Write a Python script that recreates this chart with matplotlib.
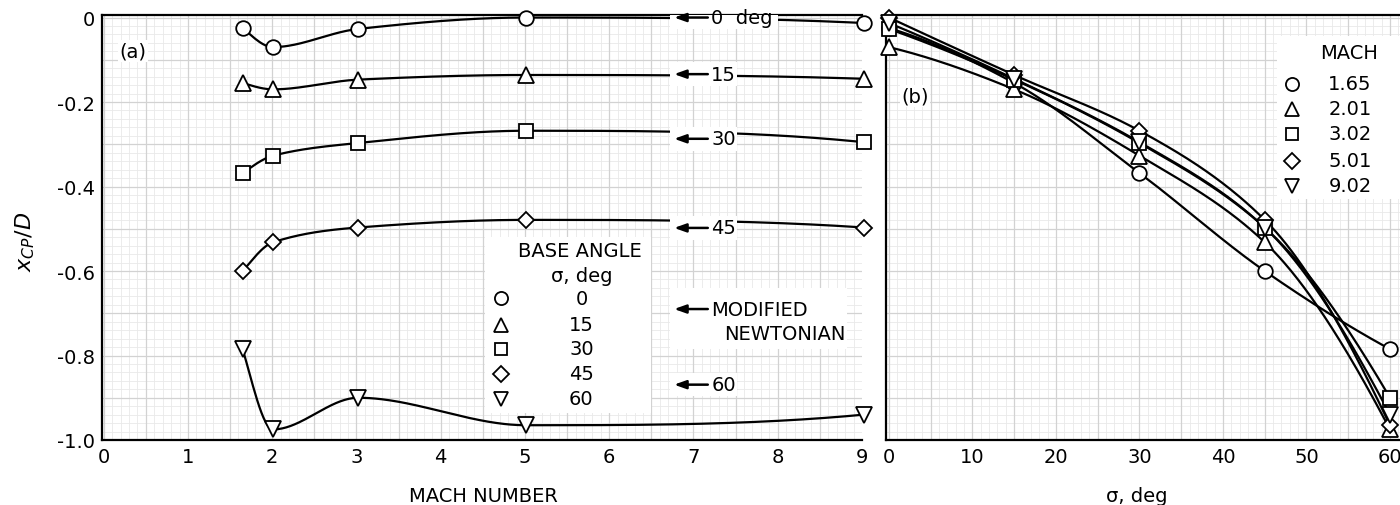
import numpy as np
import matplotlib
matplotlib.use("Agg")
import matplotlib.pyplot as plt
from matplotlib.patches import Rectangle

# ---------------- data ----------------
mach = [1.65, 2.01, 3.02, 5.01, 9.02]
sigma = [0, 15, 30, 45, 60]
xcp_sigma0 = [-0.025, -0.070, -0.027, 0.000, -0.013]
xcp_sigma15 = [-0.155, -0.170, -0.147, -0.136, -0.145]
xcp_sigma30 = [-0.368, -0.327, -0.297, -0.268, -0.295]
xcp_sigma45 = [-0.600, -0.532, -0.497, -0.479, -0.497]
xcp_sigma60 = [-0.785, -0.975, -0.900, -0.965, -0.940]
xcp_by_sigma = [xcp_sigma0, xcp_sigma15, xcp_sigma30, xcp_sigma45, xcp_sigma60]

newtonian_labels = ["0  deg", "15", "30", "45", "60"]
newtonian_xcp = [0.0, -0.134, -0.287, -0.498, -0.869]

sigma_labels = ["0", "15", "30", "45", "60"]
mach_labels = ["1.65", "2.01", "3.02", "5.01", "9.02"]
mach_ticks = [0, 1, 2, 3, 4, 5, 6, 7, 8, 9]
sigma_ticks = [0, 10, 20, 30, 40, 50, 60]
y_ticks = [0, -0.2, -0.4, -0.6, -0.8, -1.0]
y_ticklabels = ["0", "-0.2", "-0.4", "-0.6", "-0.8", "-1.0"]

# ---------------- styles ----------------
markers = ["o", "^", "s", "D", "v"]
msizes = [10.5, 11, 9.5, 8.5, 11]
FS = 14
plt.rcParams["font.family"] = ["DejaVu Sans"]


def smooth(x, y, n=300):
    """shape-preserving cubic (PCHIP) curve through the given points"""
    x = np.asarray(x, float)
    y = np.asarray(y, float)
    h = np.diff(x)
    delta = np.diff(y) / h
    m = len(x)
    d = np.zeros(m)
    for i in range(1, m - 1):
        if delta[i - 1] * delta[i] > 0:
            w1 = 2 * h[i] + h[i - 1]
            w2 = h[i] + 2 * h[i - 1]
            d[i] = (w1 + w2) / (w1 / delta[i - 1] + w2 / delta[i])
    d[0] = ((2 * h[0] + h[1]) * delta[0] - h[0] * delta[1]) / (h[0] + h[1])
    if np.sign(d[0]) != np.sign(delta[0]):
        d[0] = 0
    elif np.sign(delta[0]) != np.sign(delta[1]) and abs(d[0]) > abs(3 * delta[0]):
        d[0] = 3 * delta[0]
    d[-1] = ((2 * h[-1] + h[-2]) * delta[-1] - h[-1] * delta[-2]) / (h[-1] + h[-2])
    if np.sign(d[-1]) != np.sign(delta[-1]):
        d[-1] = 0
    elif np.sign(delta[-1]) != np.sign(delta[-2]) and abs(d[-1]) > abs(3 * delta[-1]):
        d[-1] = 3 * delta[-1]
    xs = np.linspace(x[0], x[-1], n)
    idx = np.clip(np.searchsorted(x, xs) - 1, 0, m - 2)
    t = (xs - x[idx]) / h[idx]
    h00 = 2 * t ** 3 - 3 * t ** 2 + 1
    h10 = t ** 3 - 2 * t ** 2 + t
    h01 = -2 * t ** 3 + 3 * t ** 2
    h11 = t ** 3 - t ** 2
    ys = (h00 * y[idx] + h10 * h[idx] * d[idx] + h01 * y[idx + 1]
          + h11 * h[idx] * d[idx + 1])
    return xs, ys


def paper(ax, xlim, ylim, xfine, xbold, yfine, ybold):
    for v in np.arange(np.ceil(xlim[0] / xfine) * xfine, xlim[1], xfine):
        ax.axvline(v, color="#e9e9e9", lw=0.6, zorder=0)
    for v in np.arange(np.ceil(ylim[0] / yfine) * yfine, ylim[1], yfine):
        ax.axhline(v, color="#e9e9e9", lw=0.6, zorder=0)
    for v in np.arange(np.ceil(xlim[0] / xbold) * xbold, xlim[1], xbold):
        ax.axvline(v, color="#d2d2d2", lw=0.9, zorder=0)
    for v in np.arange(np.ceil(ylim[0] / ybold) * ybold, ylim[1], ybold):
        ax.axhline(v, color="#d2d2d2", lw=0.9, zorder=0)


fig = plt.figure(figsize=(14, 5.06), dpi=100)
H = 506.0
axA = fig.add_axes([102 / 1400, (H - 441) / H, 760 / 1400, 425 / H])
axB = fig.add_axes([886 / 1400, (H - 441) / H, 514 / 1400, 425 / H])

ylim = (-1.0, 0.006)
xlimA = (-0.02, 9.0)
xlimB = (-0.35, 61.2)

for ax, xl in ((axA, xlimA), (axB, xlimB)):
    ax.set_xlim(*xl)
    ax.set_ylim(*ylim)
    ax.spines["right"].set_visible(False)
    for s in ("top", "left", "bottom"):
        ax.spines[s].set_linewidth(1.6)
    ax.tick_params(length=0, labelsize=FS, pad=5)

paper(axA, xlimA, ylim, 0.1, 0.5, 0.02, 0.1)
paper(axB, xlimB, ylim, 1.0, 5.0, 0.02, 0.1)

# ---------------- panel (a) ----------------
axA.set_xticks(mach_ticks)
axA.set_xticklabels([str(t) for t in mach_ticks])
axA.set_yticks(y_ticks)
axA.set_yticklabels(y_ticklabels)

for k, vals in enumerate(xcp_by_sigma):
    xs, ys = smooth(mach, vals)
    axA.plot(xs, ys, color="k", lw=1.6, zorder=2)
    axA.plot(mach, vals, ls="none", marker=markers[k], ms=msizes[k],
             mfc="white", mec="k", mew=1.3, zorder=6, clip_on=False)

# modified newtonian arrows
for lab, yv in zip(newtonian_labels, newtonian_xcp):
    xend = 8.0 if "deg" in lab else 7.52
    axA.add_patch(Rectangle((6.72, yv - 0.028), xend - 6.72, 0.056,
                            fc="white", ec="none", zorder=4))
    axA.annotate("", xy=(6.77, yv), xytext=(7.17, yv),
                 arrowprops=dict(arrowstyle="-|>,head_length=0.7,head_width=0.25",
                                 lw=1.8, color="k", shrinkA=0, shrinkB=0),
                 zorder=5)
    axA.text(7.21, yv, lab, fontsize=FS, ha="left", va="center", zorder=5)

axA.add_patch(Rectangle((6.72, -0.785), 2.1, 0.145, fc="white", ec="none", zorder=4))
axA.annotate("", xy=(6.77, -0.69), xytext=(7.17, -0.69),
             arrowprops=dict(arrowstyle="-|>,head_length=0.7,head_width=0.25",
                             lw=1.8, color="k", shrinkA=0, shrinkB=0), zorder=5)
axA.text(7.21, -0.69, "MODIFIED", fontsize=FS, ha="left", va="center", zorder=5)
axA.text(7.36, -0.748, "NEWTONIAN", fontsize=FS, ha="left", va="center", zorder=5)

# legend (a)
axA.add_patch(Rectangle((4.52, -0.937), 1.98, 0.418, fc="white", ec="none", zorder=4))
axA.text(5.65, -0.552, "BASE ANGLE", fontsize=FS, ha="center", va="center", zorder=5)
axA.text(5.67, -0.611, "σ, deg", fontsize=FS, ha="center", va="center", zorder=5)
rowsA = [-0.665, -0.727, -0.784, -0.843, -0.902]
for k, ry in enumerate(rowsA):
    axA.plot([4.72], [ry], ls="none", marker=markers[k], ms=msizes[k] * 0.9,
             mfc="white", mec="k", mew=1.3, zorder=6)
    axA.text(5.67, ry, sigma_labels[k], fontsize=FS, ha="center", va="center", zorder=5)

axA.text(0.35, -0.079, "(a)", fontsize=FS, ha="center", va="center", zorder=5,
         bbox=dict(fc="white", ec="none", pad=1))

# ---------------- panel (b) ----------------
axB.set_xticks(sigma_ticks)
axB.set_xticklabels([str(t) for t in sigma_ticks])
axB.set_yticks(y_ticks)
axB.set_yticklabels([])

xcp_arr = np.array(xcp_by_sigma)  # rows sigma, cols mach
for j in range(len(mach)):
    vals = xcp_arr[:, j]
    xs, ys = smooth(sigma, vals)
    axB.plot(xs, ys, color="k", lw=1.6, zorder=2)
    axB.plot(sigma, vals, ls="none", marker=markers[j], ms=msizes[j],
             mfc="white", mec="k", mew=1.3, zorder=6, clip_on=False)

axB.add_patch(Rectangle((46.5, -0.429), 15, 0.385, fc="white", ec="none", zorder=4))
axB.text(55.1, -0.082, "MACH", fontsize=FS, ha="center", va="center", zorder=5)
rowsB = [-0.157, -0.216, -0.275, -0.339, -0.398]
for j, ry in enumerate(rowsB):
    axB.plot([48.3], [ry], ls="none", marker=markers[j], ms=msizes[j] * 0.9,
             mfc="white", mec="k", mew=1.3, zorder=6)
    axB.text(57.8, ry, mach_labels[j], fontsize=FS, ha="right", va="center", zorder=5)

axB.text(3.1, -0.185, "(b)", fontsize=FS, ha="center", va="center", zorder=5,
         bbox=dict(fc="white", ec="none", pad=1))

# ---------------- axis titles ----------------
fig.text(483 / 1400, 1 - 497 / H, "MACH NUMBER", fontsize=FS, ha="center", va="center")
fig.text(1137 / 1400, 1 - 497 / H, "σ, deg", fontsize=FS, ha="center", va="center")
fig.text(25 / 1400, 1 - 242 / H, r"$x_{CP}/D$", fontsize=16, rotation=90,
         ha="center", va="center")

fig.savefig("out.png", dpi=100)
